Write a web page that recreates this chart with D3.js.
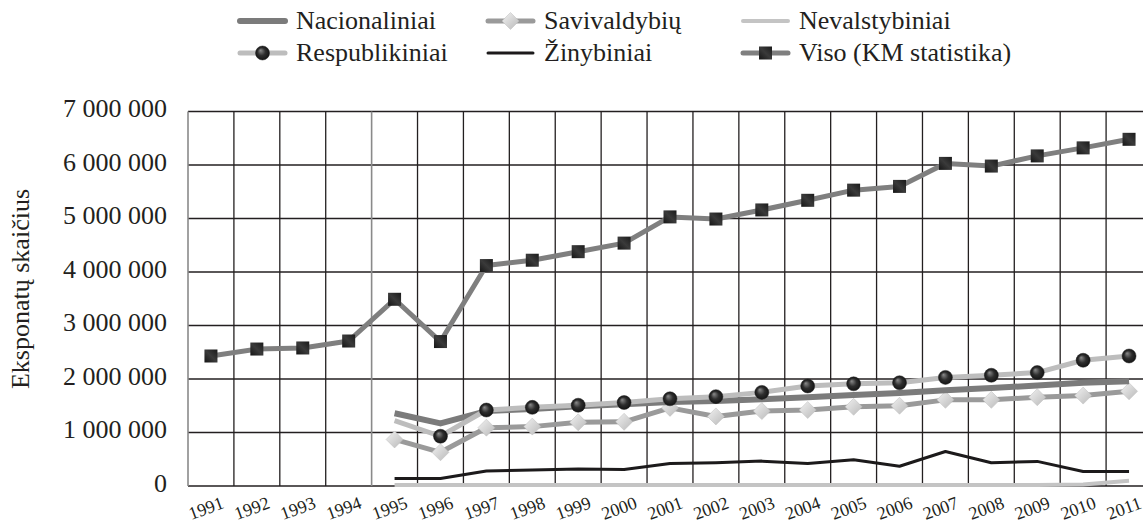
<!DOCTYPE html>
<html>
<head>
<meta charset="utf-8">
<script src="https://cdn.jsdelivr.net/npm/d3@7"></script>
<style>
  body { margin: 0; background: #fff; }
  svg text { font-family: "Liberation Serif", serif; fill: #231f20; }
</style>
</head>
<body>
<div id="chart"></div>
<script>

// chart data (null = no value for that year)
var years = ["1991","1992","1993","1994","1995","1996","1997","1998","1999","2000",
             "2001","2002","2003","2004","2005","2006","2007","2008","2009","2010","2011"];

var viso = [2430000, 2560000, 2580000, 2710000, 3490000, 2700000, 4120000, 4220000, 4380000, 4540000,
            5030000, 4990000, 5160000, 5340000, 5530000, 5600000, 6030000, 5980000, 6170000, 6320000, 6480000];

var nacionaliniai = [null, null, null, null, 1360000, 1170000, 1400000, 1440000, 1490000, 1530000,
                     1570000, 1590000, 1620000, 1660000, 1700000, 1740000, 1790000, 1830000, 1880000, 1930000, 1960000];

var respublikiniai = [null, null, null, null, 1220000, 930000, 1420000, 1470000, 1510000, 1560000,
                      1630000, 1670000, 1750000, 1870000, 1910000, 1930000, 2030000, 2070000, 2120000, 2350000, 2430000];

var savivaldybiu = [null, null, null, null, 870000, 630000, 1090000, 1110000, 1190000, 1200000,
                    1460000, 1300000, 1400000, 1420000, 1480000, 1500000, 1610000, 1610000, 1660000, 1690000, 1770000];

var zinybiniai = [null, null, null, null, 140000, 140000, 280000, 300000, 320000, 310000,
                  420000, 435000, 465000, 420000, 490000, 370000, 645000, 435000, 460000, 270000, 270000];

var nevalstybiniai = [null, null, null, null, 20000, 20000, 20000, 20000, 20000, 20000,
                      20000, 20000, 20000, 20000, 20000, 20000, 20000, 20000, 20000, 30000, 100000];

var yTicks = [0, 1000000, 2000000, 3000000, 4000000, 5000000, 6000000, 7000000];

// how each series is drawn (drawing order = list order)
var series = [
  {name: "Nevalstybiniai", values: nevalstybiniai, color: "#c4c4c4", width: 4, marker: null},
  {name: "Žinybiniai", values: zinybiniai, color: "#1c1a1b", width: 3, marker: null},
  {name: "Savivaldybių", values: savivaldybiu, color: "#9a9a9a", width: 5, marker: "diamond"},
  {name: "Nacionaliniai", values: nacionaliniai, color: "#7b7b7b", width: 6, marker: null},
  {name: "Respublikiniai", values: respublikiniai, color: "#bdbdbd", width: 5, marker: "circle", skipFirst: true},
  {name: "Viso (KM statistika)", values: viso, color: "#7f7f7f", width: 5, marker: "square"}
];

// legend order as in the picture (two rows, three columns)
var legendOrder = ["Nacionaliniai", "Savivaldybių", "Nevalstybiniai",
                   "Respublikiniai", "Žinybiniai", "Viso (KM statistika)"];

var W = 1143, H = 526;
var plotLeft = 188, plotRight = 1152, plotTop = 111.5, plotBottom = 486;

var svg = d3.select("#chart").append("svg")
    .attr("width", W)
    .attr("height", H);

var defs = svg.append("defs");
var gc = defs.append("radialGradient").attr("id", "gCircle").attr("fx", "35%").attr("fy", "30%");
gc.append("stop").attr("offset", "0%").attr("stop-color", "#8c8c8c");
gc.append("stop").attr("offset", "55%").attr("stop-color", "#2e2e2e");
gc.append("stop").attr("offset", "100%").attr("stop-color", "#141414");
var gs = defs.append("linearGradient").attr("id", "gSquare")
    .attr("x1", "0").attr("y1", "1").attr("x2", "1").attr("y2", "0");
gs.append("stop").attr("offset", "0%").attr("stop-color", "#151515");
gs.append("stop").attr("offset", "50%").attr("stop-color", "#3a3a3a");
gs.append("stop").attr("offset", "100%").attr("stop-color", "#1a1a1a");
var gd = defs.append("linearGradient").attr("id", "gDiamond")
    .attr("x1", "0").attr("y1", "0").attr("x2", "1").attr("y2", "1");
gd.append("stop").attr("offset", "0%").attr("stop-color", "#f2f2f2");
gd.append("stop").attr("offset", "100%").attr("stop-color", "#b9b9b9");

// scales
var x = d3.scaleBand().domain(years).range([plotLeft, plotRight]).paddingInner(0).paddingOuter(0);
var y = d3.scaleLinear().domain([0, 7000000]).range([plotBottom, plotTop]);
var cx = function(i) { return x(years[i]) + x.bandwidth() / 2; };

// horizontal grid
svg.append("g")
  .selectAll("line")
  .data(yTicks)
  .enter().append("line")
    .attr("x1", plotLeft).attr("x2", plotRight)
    .attr("y1", function(d) { return y(d); })
    .attr("y2", function(d) { return y(d); })
    .attr("stroke", "#231f20")
    .attr("stroke-width", 1.3);

// vertical grid at category edges
var edges = years.map(function(d) { return x(d); });
svg.append("g")
  .selectAll("line")
  .data(edges)
  .enter().append("line")
    .attr("x1", function(d) { return d; })
    .attr("x2", function(d) { return d; })
    .attr("y1", plotTop).attr("y2", plotBottom)
    .attr("stroke", function(d, i) { return (i == 0 || i == 4) ? "#8a8a8a" : "#231f20"; })
    .attr("stroke-width", function(d, i) { return (i == 0 || i == 4) ? 1.6 : 1.3; });

// y axis labels
var fmt = function(d) { return d3.format(",")(d).replace(/,/g, " "); };
svg.append("g")
  .selectAll("text")
  .data(yTicks)
  .enter().append("text")
    .attr("x", 167)
    .attr("y", function(d) { return y(d); })
    .attr("dy", "0.22em")
    .attr("text-anchor", "end")
    .style("font-size", "26px")
    .text(fmt);

// x axis labels (tilted)
svg.append("g")
  .selectAll("text")
  .data(years)
  .enter().append("text")
    .attr("transform", function(d, i) { return "translate(" + (cx(i) - 5) + ",508) rotate(-20)"; })
    .attr("dy", "0.35em")
    .attr("text-anchor", "middle")
    .style("font-size", "18px")
    .text(function(d) { return d; });

// y axis title
svg.append("text")
  .attr("transform", "translate(20,289) rotate(-90)")
  .attr("dy", "0.35em")
  .attr("text-anchor", "middle")
  .style("font-size", "26px")
  .text("Eksponatų skaičius");

function drawMarker(g, type, px, py) {
  if (type == "circle") {
    g.append("circle").attr("cx", px).attr("cy", py).attr("r", 7)
      .attr("fill", "url(#gCircle)").attr("stroke", "#222").attr("stroke-width", 0.5);
  } else if (type == "square") {
    g.append("rect").attr("x", px - 6.5).attr("y", py - 6.5)
      .attr("width", 13).attr("height", 13)
      .attr("fill", "url(#gSquare)");
  } else if (type == "diamond") {
    g.append("path")
      .attr("d", "M" + px + "," + (py - 8.5) + "L" + (px + 8.5) + "," + py +
                 "L" + px + "," + (py + 8.5) + "L" + (px - 8.5) + "," + py + "Z")
      .attr("fill", "url(#gDiamond)").attr("stroke", "#bdbdbd").attr("stroke-width", 0.5);
  }
}

// lines and markers
var line = d3.line()
  .defined(function(d) { return d != null; })
  .x(function(d, i) { return cx(i); })
  .y(function(d) { return y(d); });

series.forEach(function(s) {
  var g = svg.append("g");
  g.append("path")
    .datum(s.values)
    .attr("fill", "none")
    .attr("stroke", s.color)
    .attr("stroke-width", s.width)
    .attr("stroke-linejoin", "round")
    .attr("d", line);
  if (s.marker) {
    var first = true;
    s.values.forEach(function(v, i) {
      if (v == null) return;
      if (first && s.skipFirst) { first = false; return; }
      first = false;
      drawMarker(g, s.marker, cx(i), y(v));
    });
  }
});

// legend
var colX = [240, 488, 743], rowY = [21, 53];
legendOrder.forEach(function(name, k) {
  var s = series.filter(function(d) { return d.name == name; })[0];
  var lx = colX[k % 3], ly = rowY[Math.floor(k / 3)];
  var g = svg.append("g");
  g.append("line")
    .attr("x1", lx).attr("x2", lx + 45)
    .attr("y1", ly).attr("y2", ly)
    .attr("stroke", s.color)
    .attr("stroke-width", s.width)
    .attr("stroke-linecap", "round");
  if (s.marker) drawMarker(g, s.marker, lx + 22.5, ly);
  g.append("text")
    .attr("x", lx + 56)
    .attr("y", ly)
    .attr("dy", "0.32em")
    .style("font-size", "26px")
    .text(name);
});

</script>
</body>
</html>
